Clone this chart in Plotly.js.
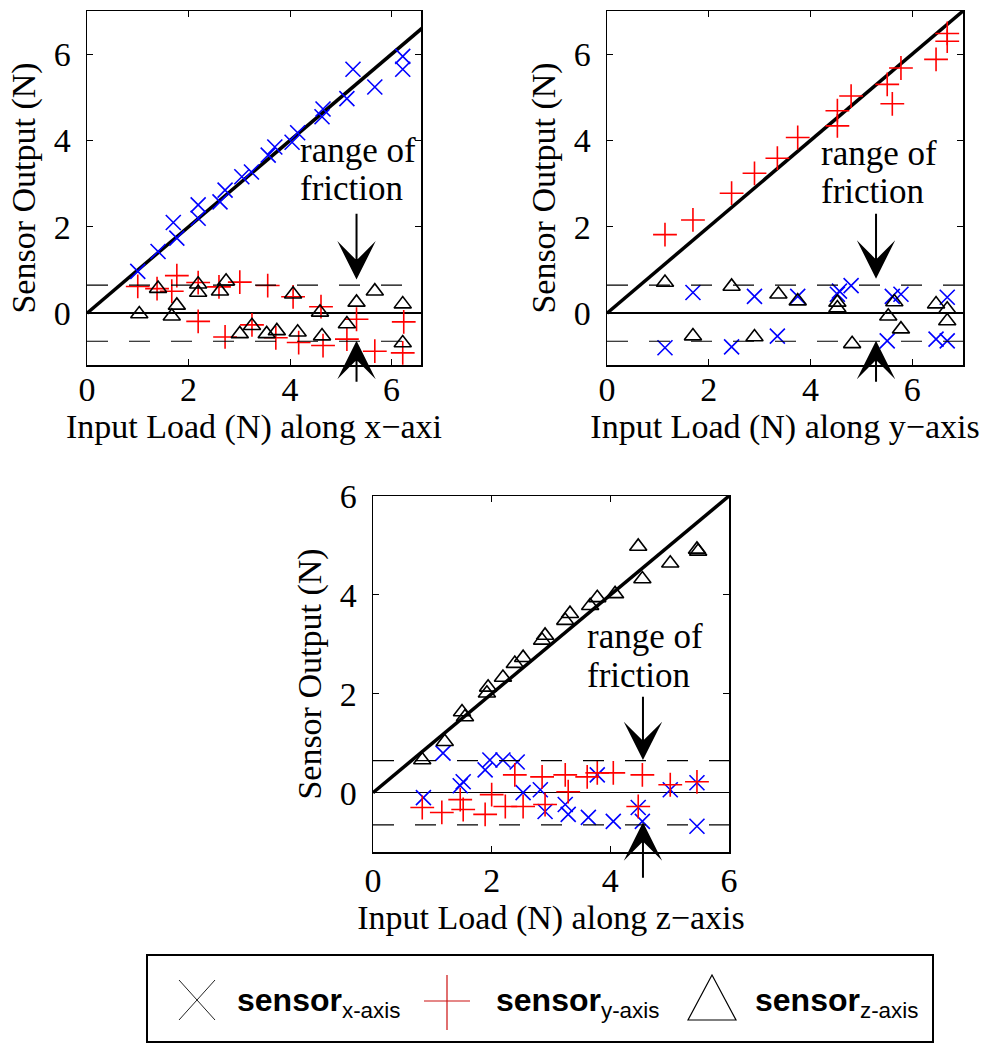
<!DOCTYPE html>
<html>
<head>
<meta charset="utf-8">
<script src="https://cdn.plot.ly/plotly-3.0.1.min.js"></script>
<style>html,body{margin:0;padding:0;background:#fff;}#chart{width:996px;height:1050px;}</style>
</head>
<body>
<div id="chart"></div>
<script>
// ---------- data ----------
const tickVals = [0, 2, 4, 6];
const tickText = ['0', '2', '4', '6'];
const FRICTION = 0.65;
const identityX = [0, 7];
const identityY = [0, 7];

// Panel 1: input load along x-axis
const p1_sx_x = [1.0, 1.4, 1.7, 1.77, 2.19, 2.19, 2.62, 2.72, 3.05, 3.24, 3.57, 3.70, 4.04, 4.15, 4.63, 4.65, 5.12, 5.24, 5.67, 6.22, 6.22];
const p1_sx_y = [0.97, 1.43, 2.1, 1.74, 2.2, 2.51, 2.58, 2.85, 3.16, 3.27, 3.66, 3.85, 3.96, 4.18, 4.55, 4.73, 4.97, 5.65, 5.24, 5.65, 5.95];
const p1_sy_x = [1.0, 1.38, 1.67, 1.77, 2.19, 2.19, 2.6, 2.72, 3.01, 3.25, 3.56, 3.72, 4.06, 4.17, 4.61, 4.65, 5.12, 5.31, 5.67, 6.24, 6.22];
const p1_sy_y = [0.62, 0.57, 0.51, 0.87, 0.71, -0.19, 0.61, -0.55, 0.72, -0.27, 0.64, -0.57, 0.38, -0.68, 0.15, -0.75, -0.6, -0.14, -0.88, -0.2, -0.92];
const p1_sz_x = [1.03, 1.40, 1.67, 1.77, 2.19, 2.19, 2.62, 2.74, 3.01, 3.25, 3.54, 3.74, 4.06, 4.15, 4.59, 4.63, 5.12, 5.31, 5.67, 6.22, 6.22];
const p1_sz_y = [-0.02, 0.57, -0.07, 0.18, 0.67, 0.48, 0.51, 0.74, -0.48, -0.29, -0.48, -0.41, 0.44, -0.44, 0.02, -0.53, -0.25, 0.25, 0.51, 0.21, -0.69];

// Panel 2: input load along y-axis
const p2_sx_x = [1.14, 1.69, 2.45, 2.90, 3.35, 3.75, 4.53, 4.57, 4.80, 5.51, 5.61, 5.78, 6.47, 6.69, 6.69];
const p2_sx_y = [-0.8, 0.48, -0.78, 0.39, -0.53, 0.39, 0.44, 0.51, 0.64, -0.64, 0.39, 0.44, -0.6, -0.64, 0.37];
const p2_sy_x = [1.14, 1.69, 2.45, 2.90, 3.35, 3.75, 4.53, 4.53, 4.80, 5.51, 5.61, 5.78, 6.47, 6.69, 6.69];
const p2_sy_y = [1.82, 2.16, 2.78, 3.24, 3.59, 4.07, 4.34, 4.69, 5.03, 5.3, 4.85, 5.68, 5.88, 6.48, 6.3];
const p2_sz_x = [1.14, 1.69, 2.45, 2.90, 3.37, 3.75, 4.53, 4.53, 4.82, 5.53, 5.65, 5.78, 6.47, 6.69, 6.69];
const p2_sz_y = [0.71, -0.53, 0.62, -0.55, 0.44, 0.28, 0.25, 0.12, -0.71, -0.07, 0.26, -0.37, 0.21, 0.09, -0.18];

// Panel 3: input load along z-axis
const p3_sx_x = [0.85, 1.18, 1.47, 1.52, 1.89, 1.97, 2.19, 2.43, 2.53, 2.82, 2.90, 3.24, 3.29, 3.63, 3.78, 4.05, 4.47, 4.54, 5.01, 5.46, 5.46];
const p3_sx_y = [-0.1, 0.8, 0.14, 0.22, 0.46, 0.66, 0.66, 0.62, 0.0, 0.06, -0.38, -0.24, -0.44, -0.5, 0.36, -0.58, -0.3, -0.58, 0.06, 0.2, -0.68];
const p3_sy_x = [0.83, 1.16, 1.47, 1.52, 1.89, 2.0, 2.23, 2.39, 2.53, 2.85, 2.90, 3.24, 3.29, 3.61, 3.78, 4.05, 4.47, 4.54, 5.01, 5.46];
const p3_sy_y = [-0.3, -0.4, -0.14, -0.34, -0.44, -0.04, -0.28, 0.36, -0.28, 0.32, -0.24, 0.36, 0.02, 0.32, 0.4, 0.4, -0.28, 0.36, 0.16, 0.22];
const p3_sz_x = [0.83, 1.21, 1.50, 1.55, 1.92, 1.94, 2.19, 2.39, 2.53, 2.85, 2.90, 3.24, 3.32, 3.66, 3.78, 4.08, 4.47, 4.54, 5.01, 5.46, 5.48];
const p3_sz_y = [0.66, 1.03, 1.63, 1.53, 2.01, 2.13, 2.33, 2.61, 2.73, 3.08, 3.18, 3.48, 3.62, 3.78, 3.94, 4.02, 4.98, 4.32, 4.64, 4.92, 4.88];

const xTitles = ['Input Load (N) along x\u2212axi', 'Input Load (N) along y\u2212axis', 'Input Load (N) along z\u2212axis'];
const yTitle = 'Sensor Output (N)';
const annoLines = ['range of', 'friction'];
const legendNames = ['<b>sensor</b><sub>x-axis</sub>', '<b>sensor</b><sub>y-axis</sub>', '<b>sensor</b><sub>z-axis</sub>'];

// ---------- styling ----------
const SERIF = 'Liberation Serif, Times New Roman, serif';
const SANS = 'Liberation Sans, Arial, sans-serif';
const BLUE = '#0000ff', RED = '#ff0000', BLACK = '#000000';
const FS = 34;

const panels = [
  {xa: 'x', ya: 'y', sx: [p1_sx_x, p1_sx_y], sy: [p1_sy_x, p1_sy_y], sz: [p1_sz_x, p1_sz_y]},
  {xa: 'x2', ya: 'y2', sx: [p2_sx_x, p2_sx_y], sy: [p2_sy_x, p2_sy_y], sz: [p2_sz_x, p2_sz_y]},
  {xa: 'x3', ya: 'y3', sx: [p3_sx_x, p3_sx_y], sy: [p3_sy_x, p3_sy_y], sz: [p3_sz_x, p3_sz_y]}
];

const traces = [];
panels.forEach(p => {
  traces.push({x: identityX, y: identityY, xaxis: p.xa, yaxis: p.ya, mode: 'lines',
    line: {color: BLACK, width: 3.5}, showlegend: false, hoverinfo: 'skip'});
  traces.push({x: p.sx[0], y: p.sx[1], xaxis: p.xa, yaxis: p.ya, mode: 'markers', showlegend: false,
    marker: {symbol: 'x-thin-open', size: 15, color: BLUE, line: {color: BLUE, width: 1.6}}});
  traces.push({x: p.sy[0], y: p.sy[1], xaxis: p.xa, yaxis: p.ya, mode: 'markers', showlegend: false,
    marker: {symbol: 'cross-thin-open', size: 17, color: RED, line: {color: RED, width: 1.6}}});
  traces.push({x: p.sz[0], y: p.sz[1], xaxis: p.xa, yaxis: p.ya, mode: 'markers', showlegend: false,
    marker: {symbol: 'triangle-up-open', size: 15, color: BLACK, line: {color: BLACK, width: 1.6}}});
});

function xAxis(domain, range, title, anchor, lblOff, titleOff) {
  return {domain: domain, range: range, anchor: anchor, showgrid: false, zeroline: false,
    showline: true, mirror: 'ticks', linecolor: BLACK, linewidth: 1.5,
    ticks: 'inside', ticklen: 6, tickwidth: 1, tickcolor: BLACK,
    tickvals: tickVals, ticktext: tickText, ticklabelstandoff: lblOff,
    tickfont: {family: SERIF, size: FS, color: BLACK},
    title: {text: title, font: {family: SERIF, size: FS, color: BLACK}, standoff: titleOff}};
}
function yAxis(domain, range, anchor) {
  return {domain: domain, range: range, anchor: anchor, showgrid: false,
    zeroline: true, zerolinecolor: BLACK, zerolinewidth: 1.5,
    showline: true, mirror: 'ticks', linecolor: BLACK, linewidth: 1.5,
    ticks: 'inside', ticklen: 6, tickwidth: 1, tickcolor: BLACK,
    tickvals: tickVals, ticktext: tickText, ticklabelstandoff: 8,
    tickfont: {family: SERIF, size: FS, color: BLACK},
    title: {text: yTitle, font: {family: SERIF, size: FS, color: BLACK}, standoff: 8}};
}

const W = 996, H = 1050;
const px = v => v / W;
const py = v => 1 - v / H;

const shapes = [];
[['x', 'y'], ['x2', 'y2'], ['x3', 'y3']].forEach(([xa, ya]) => {
  [FRICTION, -FRICTION].forEach(v => shapes.push({type: 'line', xref: xa + ' domain', yref: ya,
    x0: 0, x1: 1, y0: v, y1: v, line: {color: BLACK, width: 1.2, dash: '21px,21px'}}));
});

// custom legend box and glyphs (paper coordinates)
shapes.push({type: 'rect', xref: 'paper', yref: 'paper', x0: px(147), x1: px(933), y0: py(1042), y1: py(955),
  line: {color: BLACK, width: 2}, fillcolor: 'rgba(0,0,0,0)'});
shapes.push({type: 'path', xref: 'paper', yref: 'paper',
  path: `M${px(179)},${py(980)}L${px(215)},${py(1020)}M${px(179)},${py(1020)}L${px(215)},${py(980)}`,
  line: {color: '#222222', width: 1}});
shapes.push({type: 'path', xref: 'paper', yref: 'paper',
  path: `M${px(424)},${py(1001)}L${px(470)},${py(1001)}M${px(447)},${py(975)}L${px(447)},${py(1030)}`,
  line: {color: '#cc1111', width: 1.2}});
shapes.push({type: 'path', xref: 'paper', yref: 'paper',
  path: `M${px(712)},${py(975)}L${px(736)},${py(1020)}L${px(688)},${py(1020)}Z`,
  line: {color: BLACK, width: 1.2}});

const annotations = [];
const arrowSpecs = [
  {xa: 'x', ya: 'y', tx: 4.16, ty: [3.78, 2.90], ax: 5.31, downTail: 2.34, downTip: 0.78, upTip: -0.64, upTail: -1.62},
  {xa: 'x2', ya: 'y2', tx: 4.17, ty: [3.71, 2.81], ax: 5.29, downTail: 2.34, downTip: 0.8, upTip: -0.64, upTail: -1.62},
  {xa: 'x3', ya: 'y3', tx: 3.57, ty: [3.15, 2.36], ax: 4.55, downTail: 1.97, downTip: 0.66, upTip: -0.6, upTail: -1.75}
];
arrowSpecs.forEach(s => {
  annoLines.forEach((t, k) => annotations.push({xref: s.xa, yref: s.ya, x: s.tx, y: s.ty[k], text: t,
    showarrow: false, xanchor: 'left', yanchor: 'middle', font: {family: SERIF, size: FS + 1, color: BLACK}}));
  annotations.push({xref: s.xa, yref: s.ya, axref: s.xa, ayref: s.ya, x: s.ax, y: s.downTip,
    ax: s.ax, ay: s.downTail, text: '', showarrow: true, arrowhead: 3, arrowsize: 3.2,
    arrowwidth: 2, arrowcolor: BLACK});
  annotations.push({xref: s.xa, yref: s.ya, axref: s.xa, ayref: s.ya, x: s.ax, y: s.upTip,
    ax: s.ax, ay: s.upTail, text: '', showarrow: true, arrowhead: 3, arrowsize: 3.2,
    arrowwidth: 2, arrowcolor: BLACK});
});
[235, 494, 753].forEach((x, i) => {
  annotations.push({xref: 'paper', yref: 'paper', x: px(x), y: py(1002), text: legendNames[i],
    showarrow: false, xanchor: 'left', yanchor: 'middle', font: {family: SANS, size: 32, color: BLACK}});
});

const layout = {
  width: W, height: H, margin: {l: 0, r: 0, t: 0, b: 0},
  paper_bgcolor: '#ffffff', plot_bgcolor: '#ffffff', showlegend: false,
  xaxis: xAxis([px(87), px(421)], [0, 6.58], xTitles[0], 'y', -6, 0),
  yaxis: yAxis([py(365), py(11)], [-1.2, 7], 'x'),
  xaxis2: xAxis([px(607), px(963)], [0, 7], xTitles[1], 'y2', -6, 0),
  yaxis2: yAxis([py(365), py(11)], [-1.2, 7], 'x2'),
  xaxis3: xAxis([px(373), px(729)], [0, 6], xTitles[2], 'y3', -2, 2),
  yaxis3: yAxis([py(852), py(496)], [-1.2, 6], 'x3'),
  shapes: shapes,
  annotations: annotations
};

Plotly.newPlot('chart', traces, layout, {staticPlot: true, displayModeBar: false});
</script>
</body>
</html>
